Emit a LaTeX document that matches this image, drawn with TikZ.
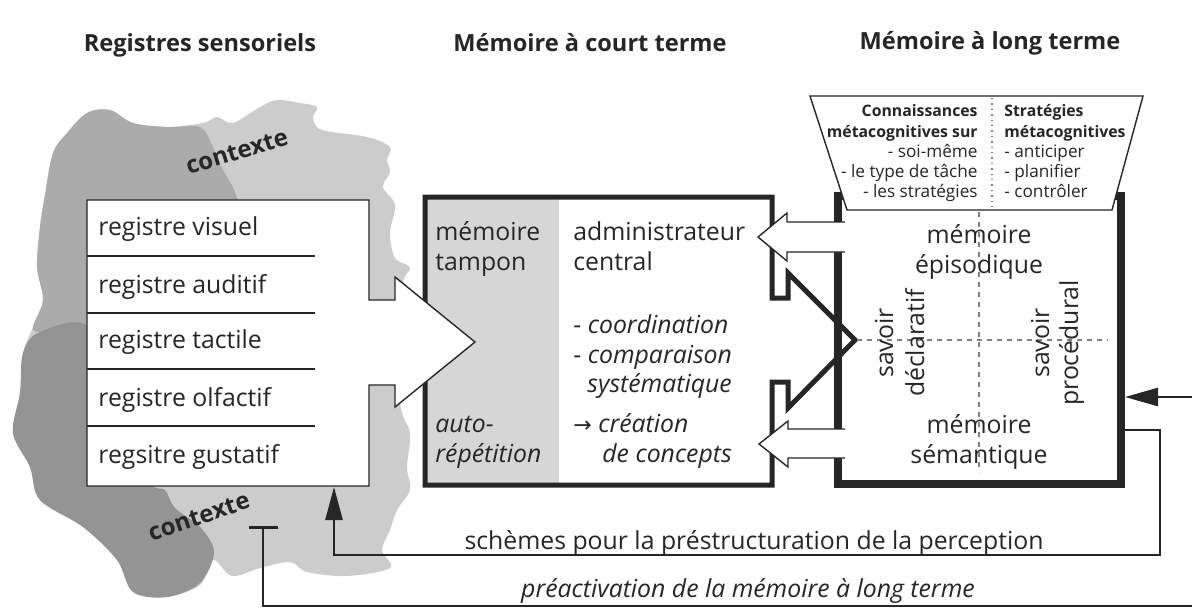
\documentclass[tikz,border=0pt]{standalone}
\usepackage{fontspec}
\setmainfont{Open Sans}
\newfontfamily\arrowfont{DejaVu Sans}
\usetikzlibrary{arrows.meta}

\definecolor{ctxlight}{gray}{0.80}
\definecolor{ctxmid}{gray}{0.67}
\definecolor{ctxdark}{gray}{0.58}
\definecolor{tampongray}{gray}{0.84}
\definecolor{inkgray}{gray}{0.15}

\tikzset{
  txt/.style={font=\fontsize{12.4}{15}\selectfont, text=inkgray, inner sep=0pt},
  ttl/.style={font=\fontsize{11.8}{14}\selectfont\bfseries, text=inkgray, inner sep=0pt},
  ctx/.style={font=\fontsize{12}{14}\selectfont\bfseries, text=inkgray, inner sep=0pt},
  meta/.style={font=\fontsize{8.6}{10}\selectfont, text=inkgray, inner sep=0pt},
  metahead/.style={font=\fontsize{7.9}{10}\selectfont\bfseries, text=inkgray, inner sep=0pt},
  thinln/.style={draw=inkgray, line width=0.7pt, line join=miter},
  stmbox/.style={draw=inkgray, line width=2.5pt, line join=miter},
  ltmbox/.style={draw=inkgray, line width=4pt, line join=miter},
  fbline/.style={draw=inkgray, line width=1.3pt},
  dashln/.style={draw=gray, line width=0.6pt, dash pattern=on 2.5pt off 2.5pt}
}

\begin{document}
\begin{tikzpicture}[x=0.5pt, y=-0.5pt]
    \useasboundingbox (0,0) rectangle (1192,610);

    \fill[ctxlight] plot[smooth cycle, tension=0.55] coordinates {
      (53,153) (67,133) (87,113) (110,110) (133,123) (167,127) (203,123)
      (217,117) (233,123) (260,107) (277,100) (300,103) (317,107) (313,118)
      (322,130) (367,137) (390,147) (387,160) (390,172) (383,187) (395,205)
      (390,233) (395,258) (410,268) (402,290) (400,400) (410,433) (407,467)
      (410,490) (397,510) (390,530) (382,550) (390,568) (347,576) (307,572)
      (290,562) (260,568) (232,576) (213,560) (200,585) (167,597) (133,592)
      (117,560) (83,527) (40,500) (30,467) (13,433) (20,393) (23,353)
      (33,327) (43,300) (37,267) (40,227) (45,195)};
    \fill[ctxmid] plot[smooth cycle, tension=0.55] coordinates {
      (53,153) (67,133) (87,113) (110,110) (133,123) (167,127) (200,127)
      (212,145) (222,168) (236,195) (240,230) (150,270) (90,330) (43,332)
      (33,327) (43,300) (37,267) (40,227) (45,195)};
    \fill[ctxdark] plot[smooth cycle, tension=0.55] coordinates {
      (40,332) (90,328) (120,420) (150,482) (165,490) (175,508) (200,527)
      (214,552) (200,583) (167,597) (133,592) (117,560) (83,527) (40,500)
      (30,467) (13,433) (20,393) (23,353)};

    \fill[white] (425,197) -- (772,197) -- (772,298) -- (788,298) -- (788,273)
      -- (855,340) -- (788,408) -- (788,382) -- (772,382) -- (772,485)
      -- (425,485) -- cycle;
    \fill[tampongray] (427,199) rectangle (559,483);
    \draw[stmbox] (425,197) -- (772,197) -- (772,298) -- (788,298) -- (788,273)
      -- (855,340) -- (788,408) -- (788,382) -- (772,382) -- (772,485)
      -- (425,485) -- cycle;

    \draw[ltmbox] (838,196) rectangle (1121,484);
    \draw[dashln] (979,212) -- (979,472);
    \draw[dashln] (857,340) -- (1108,340);

    \filldraw[fill=white, thinln] (810,96) -- (1143,96) -- (1112,210) -- (847,210) -- cycle;
    \draw[draw=gray, line width=0.7pt, dotted] (992,98) -- (992,208);

    \filldraw[fill=white, thinln] (87,200) -- (369,200) -- (369,300) -- (395,300)
      -- (395,277) -- (475,342) -- (395,407) -- (395,385) -- (369,385)
      -- (369,486) -- (87,486) -- cycle;
    \draw[thinln] (87,256) -- (315,256);
    \draw[thinln] (87,313) -- (315,313);
    \draw[thinln] (87,369) -- (315,369);
    \draw[thinln] (87,426) -- (315,426);

    \fill[white] (845,222) -- (787,222) -- (787,213) -- (758,237) -- (787,261)
      -- (787,252) -- (845,252) -- cycle;
    \draw[thinln] (845,222) -- (787,222) -- (787,213) -- (758,237) -- (787,261)
      -- (787,252) -- (845,252);
    \fill[white] (845,429) -- (788,429) -- (788,421) -- (759,444) -- (788,467)
      -- (788,458) -- (845,458) -- cycle;
    \draw[thinln] (845,429) -- (788,429) -- (788,421) -- (759,444) -- (788,467)
      -- (788,458) -- (845,458);

    \node[ttl, anchor=base] (t-rs) at (200,52) {Registres sensoriels};
    \node[ttl, anchor=base] (t-mct) at (590,52) {Mémoire à court terme};
    \node[ttl, anchor=base] (t-mlt) at (990,50) {Mémoire à long terme};

    \node[ctx, rotate=17] (ctx-top) at (237,152) {contexte};
    \node[ctx, rotate=19] (ctx-bot) at (199,517) {contexte};

    \node[txt, anchor=base west] (rs-vis) at (98,235) {registre visuel};
    \node[txt, anchor=base west] (rs-aud) at (98,293) {registre auditif};
    \node[txt, anchor=base west] (rs-tac) at (98,348) {registre tactile};
    \node[txt, anchor=base west] (rs-olf) at (98,406) {registre olfactif};
    \node[txt, anchor=base west] (rs-gus) at (98,463) {regsitre gustatif};

    \node[txt, anchor=base west] (mct-mem) at (435,240) {mémoire};
    \node[txt, anchor=base west] (mct-tam) at (435,270) {tampon};
    \node[txt, anchor=base west] (mct-aut) at (435,432) {\itshape auto-};
    \node[txt, anchor=base west] (mct-rep) at (435,462) {\itshape répétition};
    \node[txt, anchor=base west] (mct-adm) at (573,240) {administrateur};
    \node[txt, anchor=base west] (mct-cen) at (573,270) {central};
    \node[txt, anchor=base west] (mct-coo) at (573,333) {- \itshape coordination};
    \node[txt, anchor=base west] (mct-com) at (573,363) {- \itshape comparaison};
    \node[txt, anchor=base west] (mct-sys) at (587,392) {\itshape systématique};
    \node[txt, anchor=base west] (mct-cre) at (573,432) {{\arrowfont\fontsize{11}{13}\selectfont →} \itshape création};
    \node[txt, anchor=base west] (mct-con) at (602,462) {\itshape de concepts};

    \node[metahead, anchor=base east] (mc-1) at (978,117) {Connaissances};
    \node[metahead, anchor=base east] (mc-2) at (978,137) {métacognitives sur};
    \node[meta, anchor=base east] (mc-3) at (978,157) {- soi-même};
    \node[meta, anchor=base east] (mc-4) at (978,177) {- le type de tâche};
    \node[meta, anchor=base east] (mc-5) at (978,197) {- les stratégies};
    \node[metahead, anchor=base west] (ms-1) at (1004,117) {Stratégies};
    \node[metahead, anchor=base west] (ms-2) at (1004,137) {métacognitives};
    \node[meta, anchor=base west] (ms-3) at (1004,157) {- anticiper};
    \node[meta, anchor=base west] (ms-4) at (1004,177) {- planifier};
    \node[meta, anchor=base west] (ms-5) at (1004,197) {- contrôler};

    \node[txt, anchor=base] (mlt-epi1) at (979,243) {mémoire};
    \node[txt, anchor=base] (mlt-epi2) at (979,273) {épisodique};
    \node[txt, anchor=base] (mlt-sem1) at (979,433) {mémoire};
    \node[txt, anchor=base] (mlt-sem2) at (979,463) {sémantique};
    \node[txt, anchor=base, rotate=90] (mlt-dec1) at (893,343) {savoir};
    \node[txt, anchor=base, rotate=90] (mlt-dec2) at (924,343) {déclaratif};
    \node[txt, anchor=base, rotate=90] (mlt-pro1) at (1049,343) {savoir};
    \node[txt, anchor=base, rotate=90] (mlt-pro2) at (1078,343) {procédural};

    \node[txt, anchor=base] (fb-sch) at (754,549) {schèmes pour la préstructuration de la perception};
    \node[txt, anchor=base] (fb-pre) at (748,597) {\itshape préactivation de la mémoire à long terme};

    \coordinate (in-r) at (1192,397);
    \coordinate (ltm-in) at (1125,397);
    \coordinate (ltm-out) at (1125,430);
    \coordinate (rs-in) at (334,487);
    \coordinate (pre-r) at (1192,606);
    \coordinate (ctx-in) at (263,526);

    \draw[fbline, -{Triangle[length=16.5pt, width=9pt]}] (in-r) -- (ltm-in);
    \draw[fbline, -{Triangle[length=16.5pt, width=8.5pt]}] (ltm-out) -- (1160,430)
      -- (1160,555) -| (rs-in);
    \draw[fbline, -{Bar[width=14.5pt]}] (pre-r) -| (ctx-in);
\end{tikzpicture}
\end{document}
